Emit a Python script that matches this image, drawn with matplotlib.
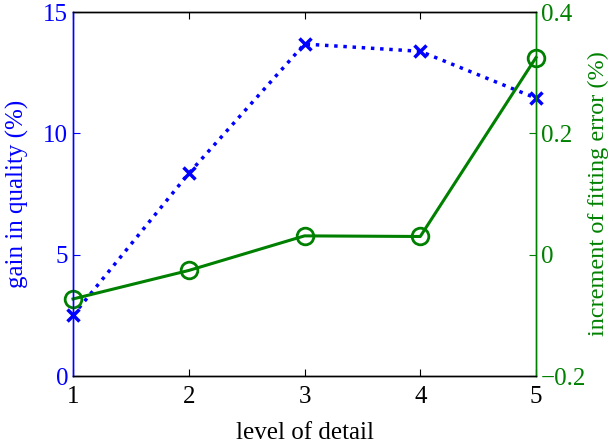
import matplotlib
matplotlib.use('Agg')
from matplotlib import pyplot as plt

plt.rcParams['font.family'] = ['Liberation Serif', 'DejaVu Serif']

level = [1, 2, 3, 4, 5]
gain = [2.5, 8.35, 13.68, 13.38, 11.45]
fit_err = [-0.073, -0.026, 0.031, 0.030, 0.325]

blue = '#0000ff'
green = '#008000'

fig = plt.figure(figsize=(6.14, 4.43), dpi=100)
ax1 = fig.add_axes([0.1189, 0.1512, 0.7541, 0.8217])
ax2 = ax1.twinx()

ax1.plot(level, gain, color=blue, linestyle=':', linewidth=2.5,
         marker='x', markersize=8, markeredgewidth=2.5, clip_on=False)
ax2.plot(level, fit_err, color=green, linestyle='-', linewidth=2.2,
         marker='o', markersize=12, markerfacecolor='none', markeredgewidth=2,
         clip_on=False)

ax1.set_xlim(1, 5)
ax1.set_ylim(0, 15)
ax2.set_ylim(-0.2, 0.4)
ax1.set_xticks(level)
ax1.set_yticks([0, 5, 10, 15])
ax2.set_yticks([-0.2, 0, 0.2, 0.4])
ax2.set_yticklabels(['\u22120.2', '0', '0.2', '0.4'])

ax1.set_xlabel('level of detail', fontsize=18, labelpad=10)
ax1.set_ylabel('gain in quality (%)', fontsize=18, color=blue, labelpad=10)
ax2.set_ylabel('increment of fitting error (%)', fontsize=17.5, color=green, labelpad=1)

ax1.tick_params(axis='x', direction='in', top=True, labelsize=18, length=5, pad=7)
ax1.tick_params(axis='y', direction='in', colors=blue, labelsize=18, length=5)
ax2.tick_params(axis='y', direction='in', colors=green, labelsize=18, length=5)
ax1.tick_params(axis='x', colors='black')

ax1.spines['left'].set_color(blue)
ax2.spines['left'].set_color(blue)
ax2.spines['right'].set_color(green)
ax1.spines['right'].set_color(green)
for ax in (ax1, ax2):
    for s in ax.spines.values():
        s.set_linewidth(1.0)

fig.savefig('out.png', dpi=100)
